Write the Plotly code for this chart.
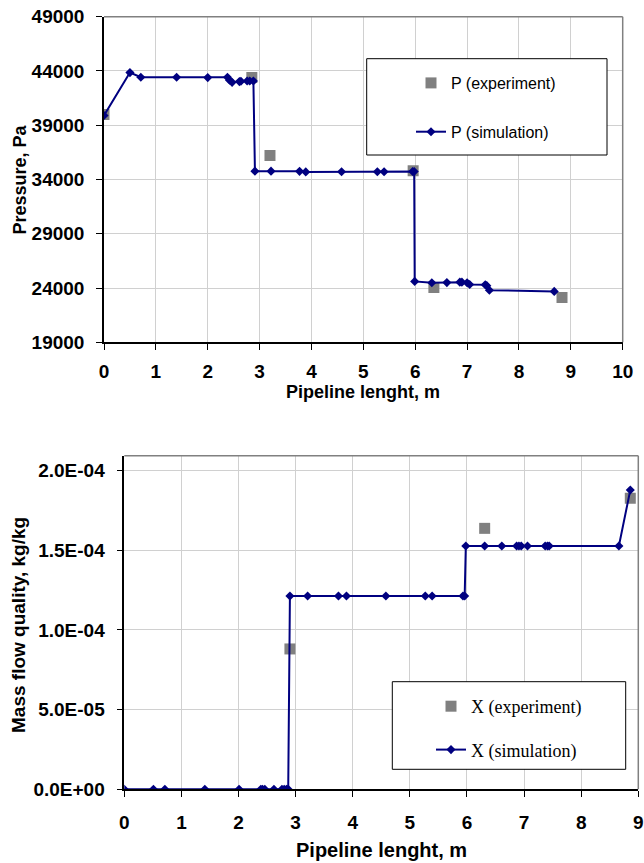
import plotly.graph_objects as go

# ---------------- data: pressure chart ----------------
p_exp_x = [0.0, 2.85, 3.20, 5.96, 6.36, 8.83]
p_exp_y = [40000, 43400, 36200, 34800, 24050, 23130]

p_sim_x = [0.0, 0.50, 0.71, 1.40, 2.00, 2.38, 2.42, 2.47, 2.61, 2.64, 2.76, 2.81, 2.88,
           2.91, 3.22, 3.77, 3.89, 4.58, 5.27, 5.40, 5.95, 5.98,
           5.99, 6.32, 6.61, 6.86, 6.90, 7.00, 7.05, 7.35, 7.38, 7.43, 8.68]
p_sim_y = [39900, 43850, 43420, 43420, 43390, 43420, 43150, 42950, 43020, 43050, 43080, 43080, 43080,
           34770, 34770, 34750, 34700, 34720, 34720, 34720, 34740, 34740,
           24610, 24480, 24500, 24540, 24540, 24480, 24320, 24300, 24220, 23800, 23690]

p_yticks = [19000, 24000, 29000, 34000, 39000, 44000, 49000]
p_yticktext = ["19000", "24000", "29000", "34000", "39000", "44000", "49000"]
p_xticks = [0, 1, 2, 3, 4, 5, 6, 7, 8, 9, 10]

# ---------------- data: mass flow quality chart ----------------
x_exp_x = [2.90, 6.31, 8.86]
x_exp_y = [8.81e-05, 1.638e-04, 1.827e-04]

x_sim_x = [0.0, 0.51, 0.71, 1.41, 2.01, 2.39, 2.42, 2.46, 2.62, 2.76, 2.80, 2.84, 2.87,
           2.90, 3.21, 3.75, 3.89, 4.58, 5.27, 5.39, 5.93, 5.96,
           5.98, 6.31, 6.61, 6.87, 6.91, 6.95, 7.06, 7.37, 7.41, 7.44, 8.66, 8.86]
x_sim_y = [0, 0, 0, 0, 0, 0, 0, 0, 0, 0, 0, 0, 0,
           1.213e-04, 1.213e-04, 1.213e-04, 1.213e-04, 1.213e-04, 1.213e-04, 1.213e-04, 1.213e-04, 1.213e-04,
           1.527e-04, 1.527e-04, 1.527e-04, 1.527e-04, 1.527e-04, 1.527e-04, 1.527e-04, 1.527e-04, 1.527e-04,
           1.527e-04, 1.527e-04, 1.879e-04]

x_yticks = [0, 5e-05, 1e-04, 1.5e-04, 2e-04]
x_yticktext = ["0.0E+00", "5.0E-05", "1.0E-04", "1.5E-04", "2.0E-04"]
x_xticks = [0, 1, 2, 3, 4, 5, 6, 7, 8, 9]

W, H = 644, 863
NAVY = "#000080"
GREY = "#808080"
GRID = "#d0d0d0"
SANS = "Liberation Sans, Arial, sans-serif"
SERIF = "Liberation Serif, Times New Roman, serif"


def px_x(v):
    return v / W


def px_y(v):
    return 1 - v / H


# plot area pixel boxes
P_L, P_R, P_T, P_B = 104, 622.7, 16.7, 342.3
X_L, X_R, X_T, X_B = 124.3, 638.3, 455.7, 789.3

fig = go.Figure()

fig.add_trace(go.Scatter(
    x=p_exp_x, y=p_exp_y, mode="markers", name="P (experiment)",
    marker=dict(symbol="square", size=11, color=GREY),
    xaxis="x", yaxis="y", legend="legend", legendgroup="a"))
fig.add_trace(go.Scatter(
    x=p_sim_x, y=p_sim_y, mode="lines+markers", name="P (simulation)",
    line=dict(color=NAVY, width=2), marker=dict(symbol="diamond", size=7, color=NAVY),
    xaxis="x", yaxis="y", legend="legend", legendgroup="b"))
fig.add_trace(go.Scatter(
    x=x_exp_x, y=x_exp_y, mode="markers", name="X (experiment)",
    marker=dict(symbol="square", size=11, color=GREY),
    xaxis="x2", yaxis="y2", legend="legend2", legendgroup="c"))
fig.add_trace(go.Scatter(
    x=x_sim_x, y=x_sim_y, mode="lines+markers", name="X (simulation)",
    line=dict(color=NAVY, width=2), marker=dict(symbol="diamond", size=7, color=NAVY),
    xaxis="x2", yaxis="y2", legend="legend2", legendgroup="d"))

tick_font_top = dict(family=SANS, size=19, color="black", weight="bold")
tick_font_bot = dict(family=SANS, size=19, color="black", weight="bold")

axis_common = dict(showgrid=True, gridcolor=GRID, gridwidth=1, showline=True,
                   linecolor="black", linewidth=1.5, ticks="outside", ticklen=6,
                   tickcolor="black", tickwidth=1, zeroline=False, fixedrange=True,
                   automargin=False)

fig.update_layout(
    template="none",
    width=W, height=H, margin=dict(l=0, r=0, t=0, b=0, pad=0, autoexpand=False),
    paper_bgcolor="white", plot_bgcolor="white",
    xaxis=dict(domain=[px_x(P_L), px_x(P_R)], range=[0, 10], tickvals=p_xticks,
               tickfont=tick_font_top, anchor="y", ticklabelstandoff=5, **axis_common),
    yaxis=dict(domain=[px_y(P_B), px_y(P_T)], range=[19000, 49000], tickvals=p_yticks,
               ticktext=p_yticktext,
               tickfont=tick_font_top, anchor="x", ticklabelstandoff=8, **axis_common),
    xaxis2=dict(domain=[px_x(X_L), px_x(X_R)], range=[0, 9], tickvals=x_xticks,
                tickfont=tick_font_bot, anchor="y2", ticklabelstandoff=9, **axis_common),
    yaxis2=dict(domain=[px_y(X_B), px_y(X_T)], range=[0, 2.094e-04], tickvals=x_yticks,
                ticktext=x_yticktext, tickfont=tick_font_bot, anchor="x2",
                ticklabelstandoff=8, **axis_common),
    legend=dict(x=px_x(411), y=px_y(66), xanchor="left", yanchor="top",
                bgcolor="rgba(0,0,0,0)", borderwidth=0, traceorder="grouped",
                tracegroupgap=25, font=dict(family=SANS, size=16, color="black")),
    legend2=dict(x=px_x(431), y=px_y(688), xanchor="left", yanchor="top",
                 bgcolor="rgba(0,0,0,0)", borderwidth=0, traceorder="grouped",
                 tracegroupgap=17, font=dict(family=SERIF, size=18, color="black")),
    showlegend=True,
)

shapes = []
# grey top/right border of plot areas
for (l, r, t, b) in [(P_L, P_R, P_T, P_B), (X_L, X_R, X_T, X_B)]:
    shapes.append(dict(type="line", xref="paper", yref="paper", x0=px_x(l), x1=px_x(r),
                       y0=px_y(t), y1=px_y(t), line=dict(color=GREY, width=1.5), layer="above"))
    shapes.append(dict(type="line", xref="paper", yref="paper", x0=px_x(r), x1=px_x(r),
                       y0=px_y(t), y1=px_y(b), line=dict(color=GREY, width=1.5), layer="above"))
# legend boxes
shapes.append(dict(type="rect", xref="paper", yref="paper", x0=px_x(366.7), x1=px_x(607),
                   y0=px_y(155), y1=px_y(58.7), line=dict(color="black", width=1),
                   fillcolor="white", layer="above", opacity=1))
shapes.append(dict(type="rect", xref="paper", yref="paper", x0=px_x(392.3), x1=px_x(625.7),
                   y0=px_y(769.3), y1=px_y(681.7), line=dict(color="black", width=1),
                   fillcolor="white", layer="above", opacity=1))
fig.update_layout(shapes=shapes)

title_font = dict(family=SANS, size=18, color="black", weight="bold")
title_font2 = dict(family=SANS, size=19, color="black", weight="bold")
title_font3 = dict(family=SANS, size=20, color="black", weight="bold")
fig.update_layout(annotations=[
    dict(text="Pipeline lenght, m", x=px_x((P_L + P_R) / 2), y=px_y(392), xref="paper",
         yref="paper", showarrow=False, xanchor="center", yanchor="middle", font=title_font),
    dict(text="Pressure, Pa", x=px_x(19.5), y=px_y(180), xref="paper", yref="paper",
         showarrow=False, textangle=-90, xanchor="center", yanchor="middle", font=title_font),
    dict(text="Pipeline lenght, m", x=px_x(382), y=px_y(850), xref="paper",
         yref="paper", showarrow=False, xanchor="center", yanchor="middle", font=title_font3),
    dict(text="Mass flow quality, kg/kg", x=px_x(18), y=px_y(625), xref="paper", yref="paper",
         showarrow=False, textangle=-90, xanchor="center", yanchor="middle", font=title_font2),
])

fig.write_html("out.html", config={"displayModeBar": False},
               post_script="document.body.style.margin='0px';document.body.style.overflow='hidden';")
